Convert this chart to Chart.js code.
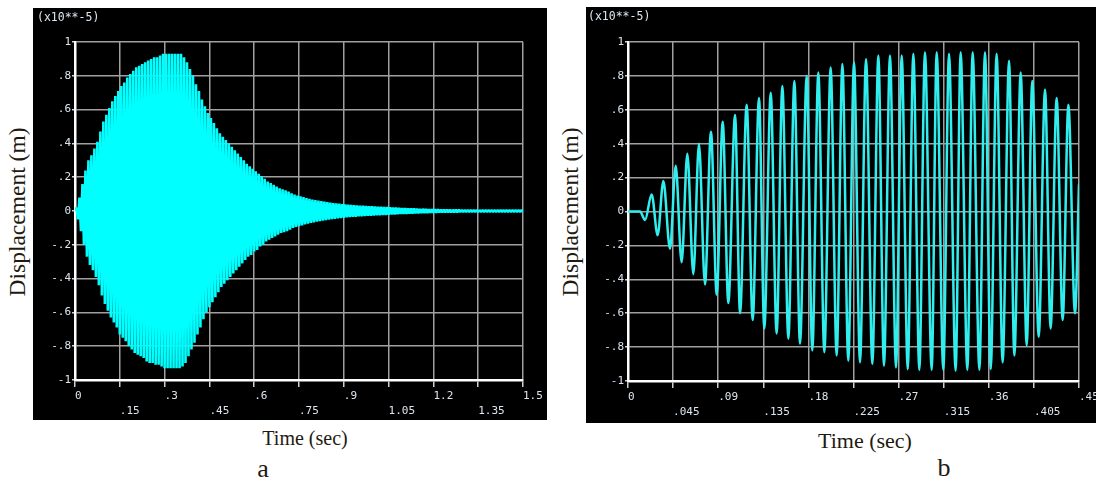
<!DOCTYPE html>
<html>
<head>
<meta charset="utf-8">
<script src="https://cdn.jsdelivr.net/npm/chart.js@4.4.1/dist/chart.umd.min.js"></script>
<style>
html, body { margin: 0; padding: 0; background: #fff; width: 1096px; height: 482px; overflow: hidden; position: relative; }
canvas { position: absolute; background: #000; }
#ca { left: 33px; top: 8px; }
#cb { left: 586px; top: 7px; }
.t { position: absolute; color: #221a10; white-space: nowrap; line-height: 1; font-family: 'Liberation Serif', 'Times New Roman', serif; transform: translate(-50%, -50%); }
.r { transform: translate(-50%, -50%) rotate(-90deg); }
.e { position: absolute; font-family: 'DejaVu Sans Mono', monospace; font-size: 11.5px; color: #dde6ee; line-height: 1; }
</style>
</head>
<body>
<canvas id="ca" width="514" height="412"></canvas>
<canvas id="cb" width="520" height="416"></canvas>
<div class="e" style="left:37px;top:12px">(x10**-5)</div>
<div class="e" style="left:588px;top:11px">(x10**-5)</div>
<div class="t r" style="left:18px;top:212px;font-size:23.5px">Displacement (m)</div>
<div class="t r" style="left:571px;top:212px;font-size:23.5px">Displacement (m)</div>
<div class="t" style="left:305px;top:438px;font-size:20px">Time (sec)</div>
<div class="t" style="left:865px;top:441px;font-size:22px">Time (sec)</div>
<div class="t" style="left:263px;top:469px;font-size:26px">a</div>
<div class="t" style="left:944px;top:468px;font-size:26px">b</div>
<script>
// y axis, shared by both plots (units of 1e-5 m)
const yTicks = [-1, -0.8, -0.6, -0.4, -0.2, 0, 0.2, 0.4, 0.6, 0.8, 1];
const yLabels = ['-1', '-.8', '-.6', '-.4', '-.2', '0', '.2', '.4', '.6', '.8', '1'];

// plot a: 0 - 1.5 s
const xTicksA = [0, 0.15, 0.3, 0.45, 0.6, 0.75, 0.9, 1.05, 1.2, 1.35, 1.5];
const xLabelsA = ['0', '.15', '.3', '.45', '.6', '.75', '.9', '1.05', '1.2', '1.35', '1.5'];
const stepA = 0.005; // s between successive peaks
const dispA = [
  0, 0.02, -0.05, 0.08, -0.12, 0.16, -0.20, 0.24, -0.27, 0.30,
  -0.32, 0.33, -0.35, 0.37, -0.39, 0.41, -0.44, 0.47, -0.50, 0.53,
  -0.55, 0.57, -0.59, 0.61, -0.63, 0.65, -0.66, 0.68, -0.69, 0.71,
  -0.73, 0.74, -0.75, 0.76, -0.77, 0.79, -0.80, 0.81, -0.82, 0.83,
  -0.84, 0.85, -0.85, 0.86, -0.86, 0.87, -0.87, 0.88, -0.89, 0.89,
  -0.90, 0.90, -0.90, 0.91, -0.91, 0.91, -0.91, 0.92, -0.92, 0.93,
  -0.93, 0.93, -0.93, 0.93, -0.93, 0.93, -0.93, 0.93, -0.93, 0.93,
  -0.93, 0.93, -0.92, 0.91, -0.90, 0.88, -0.86, 0.84, -0.82, 0.80,
  -0.78, 0.75, -0.73, 0.71, -0.69, 0.66, -0.64, 0.62, -0.60, 0.58,
  -0.57, 0.55, -0.54, 0.52, -0.51, 0.49, -0.48, 0.46, -0.45, 0.44,
  -0.43, 0.42, -0.41, 0.40, -0.39, 0.38, -0.37, 0.36, -0.35, 0.34,
  -0.33, 0.32, -0.31, 0.30, -0.29, 0.28, -0.27, 0.265, -0.26, 0.25,
  -0.24, 0.235, -0.23, 0.22, -0.21, 0.205, -0.20, 0.19, -0.18, 0.175,
  -0.17, 0.165, -0.16, 0.155, -0.15, 0.145, -0.14, 0.135, -0.13, 0.128,
  -0.125, 0.122, -0.12, 0.115, -0.11, 0.105, -0.10, 0.097, -0.095, 0.092,
  -0.09, 0.087, -0.085, 0.082, -0.08, 0.077, -0.075, 0.072, -0.07, 0.068,
  -0.067, 0.065, -0.063, 0.061, -0.06, 0.058, -0.057, 0.055, -0.054, 0.052,
  -0.051, 0.05, -0.048, 0.047, -0.046, 0.045, -0.044, 0.043, -0.042, 0.041,
  -0.040, 0.039, -0.038, 0.037, -0.036, 0.036, -0.035, 0.035, -0.034, 0.033,
  -0.032, 0.032, -0.031, 0.031, -0.030, 0.030, -0.029, 0.029, -0.028, 0.028,
  -0.027, 0.027, -0.026, 0.026, -0.025, 0.025, -0.024, 0.024, -0.023, 0.023,
  -0.022, 0.022, -0.021, 0.021, -0.020, 0.020, -0.019, 0.019, -0.018, 0.018,
  -0.018, 0.017, -0.017, 0.016, -0.016, 0.015, -0.015, 0.015, -0.014, 0.014,
  -0.014, 0.013, -0.013, 0.013, -0.012, 0.012, -0.012, 0.011, -0.011, 0.011,
  -0.010, 0.010, -0.010, 0.010, -0.009, 0.009, -0.009, 0.009, -0.008, 0.008,
  -0.008, 0.008, -0.008, 0.007, -0.007, 0.007, -0.007, 0.007, -0.006, 0.006,
  -0.006, 0.006, -0.006, 0.006, -0.005, 0.005, -0.005, 0.005, -0.005, 0.005,
  -0.005, 0.004, -0.004, 0.004, -0.004, 0.004, -0.004, 0.004, -0.004, 0.004,
  -0.004, 0.004, -0.004, 0.004, -0.004, 0.004, -0.004, 0.004, -0.004, 0.004,
  -0.004, 0.004, -0.004, 0.004, -0.004, 0.004, -0.004, 0.004, -0.004, 0.004,
  -0.004];

// plot b: 0 - 0.45 s, every peak and trough
const xTicksB = [0, 0.045, 0.09, 0.135, 0.18, 0.225, 0.27, 0.315, 0.36, 0.405, 0.45];
const xLabelsB = ['0', '.045', '.09', '.135', '.18', '.225', '.27', '.315', '.36', '.405', '.45'];
const timeB = [0, 0.012, 0.0170, 0.0236, 0.0296, 0.0353, 0.0419, 0.0476, 0.0535, 0.0592, 0.0652, 0.0708, 0.0768, 0.0828, 0.0885, 0.0945,
  0.1001, 0.1068, 0.1118, 0.1184, 0.1244, 0.1307, 0.1360, 0.1424, 0.1483, 0.1540, 0.1600, 0.1660, 0.1716, 0.1783, 0.1839, 0.1899,
  0.1959, 0.2022, 0.2082, 0.2139, 0.2198, 0.2255, 0.2315, 0.2375, 0.2438, 0.2498, 0.2554, 0.2614, 0.2674, 0.2731, 0.2791, 0.2847,
  0.2907, 0.2963, 0.3030, 0.3080, 0.3146, 0.3203, 0.3269, 0.3319, 0.3386, 0.3439, 0.3506, 0.3562, 0.3619, 0.3678, 0.3738, 0.3802,
  0.3855, 0.3918, 0.3978, 0.4034, 0.4098, 0.4161, 0.4217, 0.4277, 0.4337, 0.4394, 0.4460, 0.4500];
const dispB = [0, 0, -0.05, 0.10, -0.14, 0.18, -0.22, 0.27, -0.30, 0.34, -0.37, 0.40, -0.43, 0.47, -0.49, 0.53,
  -0.54, 0.57, -0.60, 0.63, -0.64, 0.67, -0.69, 0.70, -0.72, 0.74, -0.75, 0.77, -0.78, 0.80, -0.82, 0.82,
  -0.83, 0.85, -0.85, 0.87, -0.88, 0.88, -0.89, 0.90, -0.90, 0.92, -0.91, 0.92, -0.92, 0.92, -0.93, 0.93,
  -0.935, 0.94, -0.935, 0.94, -0.935, 0.93, -0.94, 0.94, -0.935, 0.94, -0.935, 0.94, -0.93, 0.93, -0.89, 0.89,
  -0.85, 0.82, -0.79, 0.77, -0.74, 0.72, -0.69, 0.67, -0.64, 0.63, -0.60, 0.16];

const tickFont = { family: "'DejaVu Sans Mono', monospace", size: 11, lineHeight: '15px' };
const tickColor = '#dde6ee';

function makeOptions(xTicks, xLabels, pad, xHeight) {
  return {
    responsive: false,
    animation: false,
    events: [],
    layout: { padding: pad },
    plugins: { legend: { display: false }, tooltip: { enabled: false } },
    scales: {
      x: {
        type: 'linear',
        min: xTicks[0],
        max: xTicks[xTicks.length - 1],
        afterBuildTicks: s => { s.ticks = xTicks.map(v => ({ value: v })); },
        afterFit: s => { s.height = xHeight; },
        grid: { color: '#a0a0a0', lineWidth: 1.5, tickLength: 7, tickColor: '#d0d0d0', tickWidth: 1.5 },
        border: { display: true, color: '#ffffff', width: 2.5 },
        ticks: {
          align: 'start',
          maxRotation: 0,
          autoSkip: false,
          padding: 2,
          color: tickColor,
          font: tickFont,
          callback: (v, i) => (i % 2 ? ['', xLabels[i]] : [xLabels[i], ''])
        }
      },
      y: {
        min: -1,
        max: 1,
        afterBuildTicks: s => { s.ticks = yTicks.map(v => ({ value: v })); },
        afterFit: s => { s.width = 42; },
        grid: { color: '#a0a0a0', lineWidth: 1.5, tickLength: 3, tickColor: '#d0d0d0' },
        border: { display: true, color: '#ffffff', width: 2.5 },
        ticks: {
          padding: 1,
          color: tickColor,
          font: tickFont,
          callback: (v, i) => yLabels[i]
        }
      }
    }
  };
}

new Chart(document.getElementById('ca'), {
  type: 'line',
  data: {
    datasets: [{
      data: dispA.map((v, i) => ({ x: i * stepA, y: v })),
      borderColor: '#00ffff',
      borderWidth: 2.6,
      borderJoinStyle: 'bevel',
      pointRadius: 0,
      tension: 0
    }]
  },
  options: makeOptions(xTicksA, xLabelsA, { top: 34, right: 24, left: 0, bottom: 0 }, 40)
});

new Chart(document.getElementById('cb'), {
  type: 'line',
  data: {
    datasets: [{
      data: timeB.map((t, i) => ({ x: t, y: dispB[i] })),
      borderColor: '#30eeee',
      borderWidth: 2.5,
      pointRadius: 0,
      cubicInterpolationMode: 'monotone'
    }]
  },
  options: makeOptions(xTicksB, xLabelsB, { top: 35, right: 27, left: 0, bottom: 0 }, 42)
});
</script>
</body>
</html>
